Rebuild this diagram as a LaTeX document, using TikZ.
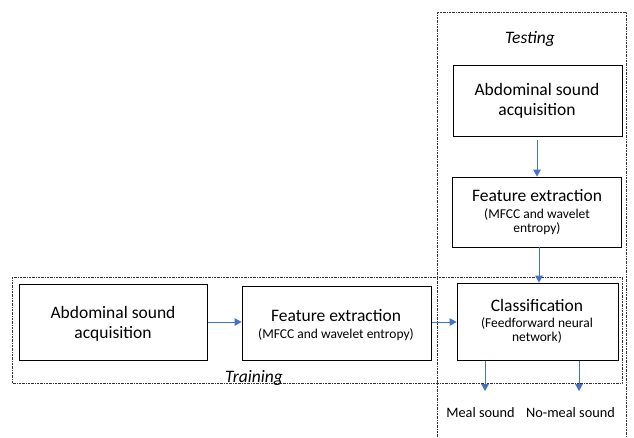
\documentclass[tikz,border=0pt]{standalone}
\usepackage{fontspec}
\setmainfont{Carlito}
\usetikzlibrary{arrows.meta}
\definecolor{arrowblue}{HTML}{4472C4}
\tikzset{
  stepbox/.style={draw=black, line width=0.8pt, fill=white, inner sep=0pt},
  frame/.style={draw=black!80, line width=0.6pt, dash pattern=on 2pt off 1pt on 0.5pt off 1pt},
  flow/.style={draw=arrowblue, line width=0.8pt, -{Triangle[length=7pt,width=7.5pt]}},
  big/.style={font=\fontsize{17.5}{21}\selectfont, anchor=base, inner sep=0pt},
  small/.style={font=\fontsize{13.5}{15}\selectfont, anchor=base, inner sep=0pt},
  outlbl/.style={font=\fontsize{14.3}{17}\selectfont, anchor=base, inner sep=0pt},
  framelbl/.style={font=\fontsize{17.5}{20}\selectfont\itshape, anchor=base, inner sep=0pt},
}
\begin{document}
\begin{tikzpicture}[x=1pt,y=-1pt]
\useasboundingbox (0,0) rectangle (634,437);
% frames
\draw[frame] (437,437) -- (437,12) -- (626,12) -- (626,437);
\draw[frame] (12,277) rectangle (622,383);
\node[framelbl] (testlbl) at (530,43) {Testing};
\node[framelbl] (trainlbl) at (254,382) {Training};
% testing boxes
\node[stepbox, minimum width=169pt, minimum height=71pt] (ta) at (537.5,100.5) {};
\node[big] (ta1) at (537,95) {Abdominal sound};
\node[big] (ta2) at (537,115) {acquisition};
\node[stepbox, minimum width=169pt, minimum height=70pt] (tf) at (536.5,212) {};
\node[big] (tf1) at (537,201) {Feature extraction};
\node[small] (tf2) at (537,218) {(MFCC and wavelet};
\node[small] (tf3) at (537,232) {entropy)};
\node[stepbox, minimum width=161pt, minimum height=77pt] (cl) at (537.5,321.5) {};
\node[big] (cl1) at (537,311) {Classification};
\node[small] (cl2) at (537,327) {(Feedforward neural};
\node[small] (cl3) at (537,341) {network)};
% training boxes
\node[stepbox, minimum width=188pt, minimum height=76pt] (ra) at (113,322) {};
\node[big] (ra1) at (113,318) {Abdominal sound};
\node[big] (ra2) at (113,338) {acquisition};
\node[stepbox, minimum width=189pt, minimum height=74pt] (rf) at (336.5,323) {};
\node[big] (rf1) at (336,321) {Feature extraction};
\node[small] (rf2) at (336,338) {(MFCC and wavelet entropy)};
% outputs
\node[outlbl] (meal) at (480.5,417) {Meal sound};
\node[outlbl] (nomeal) at (570.5,417) {No-meal sound};
\coordinate (m1) at (485,361);
\coordinate (m2) at (485,391);
\coordinate (n1) at (579,361);
\coordinate (n2) at (579,391);
\coordinate (a1) at (537,140);
\coordinate (a2) at (539,247);
\coordinate (a3) at (432,322);
\coordinate (a4) at (208,322);
% arrows
\draw[flow] (a1) -- (tf.north -| a1);
\draw[flow] (a2) -- (cl.north -| a2);
\draw[flow] (a4) -- (rf.west |- a4);
\draw[flow] (a3) -- (cl.west |- a3);
\draw[flow] (m1) -- (m2);
\draw[flow] (n1) -- (n2);
\end{tikzpicture}
\end{document}
